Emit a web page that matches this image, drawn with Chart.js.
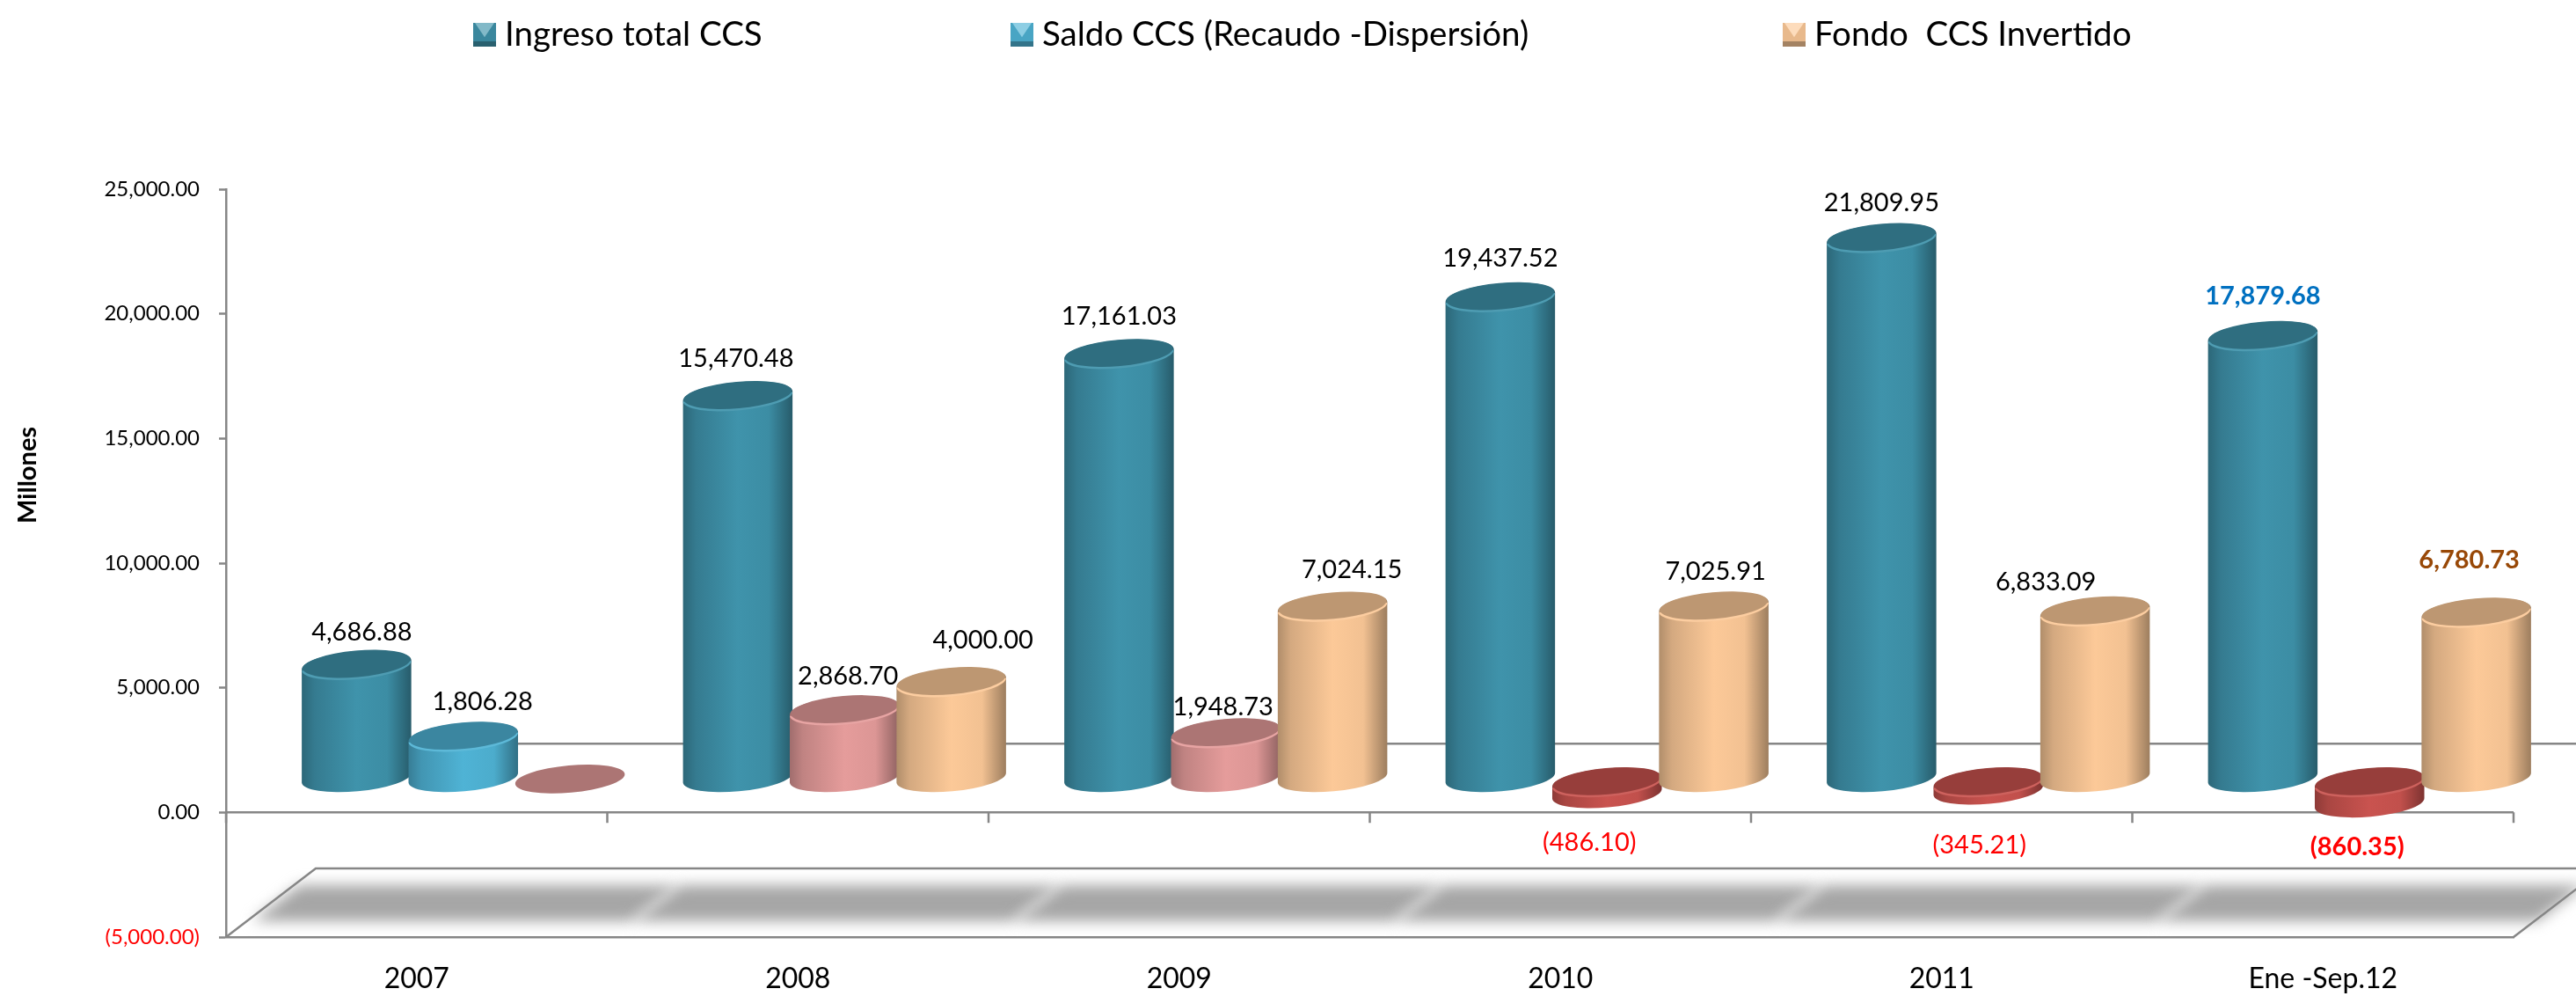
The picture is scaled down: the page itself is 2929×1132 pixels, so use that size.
<!DOCTYPE html>
<html>
<head>
<meta charset="utf-8">
<style>
  html, body { margin: 0; padding: 0; background: #fff; }
  canvas { display: block; }
</style>
<script src="https://cdn.jsdelivr.net/npm/chart.js@4"></script>
</head>
<body>
<canvas id="myChart" width="2929" height="1132"></canvas>
<script>
const categories = ["2007", "2008", "2009", "2010", "2011", "Ene -Sep.12"];
const ingresoTotal = [4686.88, 15470.48, 17161.03, 19437.52, 21809.95, 17879.68];
const saldoCCS = [1806.28, 2868.70, 1948.73, -486.10, -345.21, -860.35];
const fondoInvertido = [0, 4000.00, 7024.15, 7025.91, 6833.09, 6780.73];
const seriesNames = ["Ingreso total CCS", "Saldo CCS (Recaudo -Dispersión)", "Fondo  CCS Invertido"];

// colores por barra
const ingresoColors = ["#3f93ab", "#3f93ab", "#3f93ab", "#3f93ab", "#3f93ab", "#3f93ab"];
const saldoColors = ["#4fb3d5", "#e59c9b", "#e59c9b", "#c9534f", "#c9534f", "#c9534f"];
const fondoColors = ["#e59c9b", "#fcc998", "#fcc998", "#fcc998", "#fcc998", "#fcc998"];
const legendColors = ["#3f93ab", "#4fb3d5", "#fcc998"];

// ajuste a mano de las etiquetas [dx, dy] respecto a la cara superior
const ingresoNudge = [[6, -37], [-2, -42], [0, -42], [0, -44], [0, -40], [0, -45]];
const saldoNudge = [[22, -40], [4, -38], [-3, -29], [-20, 69], [-10, 72], [-14, 74]];
const fondoNudge = [[0, 0], [36, -47], [22, -42], [2, -40], [-56, -33], [-8, -60]];
const labelColors = [
  ["#000", "#000", "#000", "#000", "#000", "#0070c0"],
  ["#000", "#000", "#000", "#f00", "#f00", "#f00"],
  ["#000", "#000", "#000", "#000", "#000", "#984807"]
];
const boldLabels = [[5], [5], [5]];
const legendStarts = [538, 1149, 2027];

const AXIS = "#868686";
const FONT = "Lato";
const DEPTH_X = 53, DEPTH_Y = -35, RY = 15.5, TILT = -0.09;

function shade(hex, f) {
  let n = parseInt(hex.slice(1), 16);
  let r = (n >> 16) & 255, g = (n >> 8) & 255, b = n & 255;
  if (f <= 1) return "rgb(" + r * f + "," + g * f + "," + b * f + ")";
  return "rgb(" + (r + (255 - r) * (f - 1)) + "," + (g + (255 - g) * (f - 1)) + "," + (b + (255 - b) * (f - 1)) + ")";
}

function formatValue(v) {
  let s = Math.abs(v).toLocaleString("en-US", { minimumFractionDigits: 2, maximumFractionDigits: 2 });
  return v < 0 ? "(" + s + ")" : s;
}

function drawCylinder(ctx, bar, color, flat) {
  let rx = bar.width / 2;
  let x = bar.x + DEPTH_X;
  let top = Math.min(bar.y, bar.base) + DEPTH_Y;
  let bottom = Math.max(bar.y, bar.base) + DEPTH_Y;
  if (bar.y < bar.base) bottom -= 4; // la base apoya un poco mas arriba

  if (!flat) {
    let g = ctx.createLinearGradient(x - rx, 0, x + rx, 0);
    g.addColorStop(0, shade(color, 0.7));
    g.addColorStop(0.12, shade(color, 0.84));
    g.addColorStop(0.5, color);
    g.addColorStop(0.78, shade(color, 0.96));
    g.addColorStop(1, shade(color, 0.62));
    ctx.beginPath();
    ctx.ellipse(x, bottom, rx, RY, TILT, 0, Math.PI);
    ctx.ellipse(x, top, rx, RY, TILT, Math.PI, Math.PI * 2);
    ctx.closePath();
    ctx.fillStyle = g;
    ctx.fill();
    // borde algo mas claro en la parte baja de la tapa
    ctx.beginPath();
    ctx.ellipse(x, top + 1, rx, RY, TILT, 0, Math.PI);
    ctx.fillStyle = shade(color, 1.08);
    ctx.fill();
  }
  ctx.beginPath();
  ctx.ellipse(x, top - (flat ? 3 : 1), rx - (flat ? 0 : 1), RY - (flat ? 0 : 0.5), TILT, 0, Math.PI * 2);
  ctx.fillStyle = shade(color, 0.75);
  ctx.fill();
}

function drawMarker(ctx, x, y, color) {
  let w = 26, h = 27;
  ctx.fillStyle = shade(color, 0.92);
  ctx.fillRect(x, y, w, h);
  ctx.fillStyle = shade(color, 1.35);
  ctx.beginPath();
  ctx.moveTo(x + 2, y);
  ctx.lineTo(x + w - 2, y);
  ctx.lineTo(x + w / 2, y + h * 0.6);
  ctx.fill();
  ctx.fillStyle = shade(color, 0.65);
  ctx.fillRect(x, y + h - 6, w, 6);
}

const chart3d = {
  id: "chart3d",
  beforeDatasetsDraw(chart) {
    const ctx = chart.ctx;
    const area = chart.chartArea;
    const ys = chart.scales.y;
    const slot = area.width / categories.length;
    const y0 = ys.getPixelForValue(0);
    const yLow = ys.getPixelForValue(-5000);

    ctx.save();

    // sombra del piso
    ctx.filter = "blur(8px)";
    ctx.fillStyle = "#a6a6a6";
    categories.forEach(function (c, i) {
      let l = area.left + i * slot;
      ctx.beginPath();
      ctx.moveTo(l + 84, yLow - 59);
      ctx.lineTo(l + 84 + slot - 3, yLow - 59);
      ctx.lineTo(l + 30 + slot - 3, yLow - 18);
      ctx.lineTo(l + 30, yLow - 18);
      ctx.closePath();
      ctx.fill();
    });
    ctx.filter = "none";

    // piso y pared
    ctx.strokeStyle = AXIS;
    ctx.lineWidth = 2.5;
    ctx.beginPath();
    ctx.moveTo(area.left, yLow);
    ctx.lineTo(area.left + 102, yLow - 78);
    ctx.lineTo(chart.width, yLow - 78);
    ctx.moveTo(area.right, yLow);
    ctx.lineTo(area.right + 102, yLow - 78);
    ctx.moveTo(400, y0 - 78);
    ctx.lineTo(chart.width, y0 - 78);
    ctx.stroke();

    // linea del cero con sus marcas
    ctx.beginPath();
    ctx.moveTo(area.left, y0);
    ctx.lineTo(area.right, y0);
    for (let i = 0; i <= categories.length; i++) {
      ctx.moveTo(area.left + i * slot, y0);
      ctx.lineTo(area.left + i * slot, y0 + 12);
    }
    ctx.stroke();

    // cilindros
    chart.data.datasets.forEach(function (ds, d) {
      chart.getDatasetMeta(d).data.forEach(function (bar, i) {
        drawCylinder(ctx, bar, ds.backgroundColor[i], ds.data[i] === 0);
      });
    });

    // etiquetas de datos
    ctx.textAlign = "center";
    ctx.textBaseline = "middle";
    [ingresoNudge, saldoNudge, fondoNudge].forEach(function (nudge, d) {
      let ds = chart.data.datasets[d];
      chart.getDatasetMeta(d).data.forEach(function (bar, i) {
        if (ds.data[i] === 0) return;
        let top = Math.min(bar.y, bar.base) + DEPTH_Y;
        ctx.font = (boldLabels[d].includes(i) ? "bold " : "") + "29px " + FONT;
        ctx.fillStyle = labelColors[d][i];
        ctx.fillText(formatValue(ds.data[i]), bar.x + DEPTH_X + nudge[i][0], top + nudge[i][1]);
      });
    });

    // leyenda
    seriesNames.forEach(function (name, i) {
      drawMarker(ctx, legendStarts[i], 26, legendColors[i]);
      ctx.font = "38.5px " + FONT;
      ctx.textAlign = "left";
      ctx.fillStyle = "#000";
      ctx.fillText(name, legendStarts[i] + 36, 40);
    });

    // titulo del eje
    ctx.translate(32, 540);
    ctx.rotate(-Math.PI / 2);
    ctx.font = "bold 29px " + FONT;
    ctx.textAlign = "center";
    ctx.fillText("Millones", 0, 0);

    ctx.restore();
    return false;
  }
};

new Chart(document.getElementById("myChart"), {
  type: "bar",
  data: {
    labels: categories,
    datasets: [
      { label: seriesNames[0], data: ingresoTotal, backgroundColor: ingresoColors },
      { label: seriesNames[1], data: saldoCCS, backgroundColor: saldoColors },
      { label: seriesNames[2], data: fondoInvertido, backgroundColor: fondoColors }
    ]
  },
  options: {
    responsive: false,
    animation: false,
    categoryPercentage: 0.84,
    barPercentage: 1.03,
    layout: { padding: { top: 215, right: 71, bottom: 0, left: 0 } },
    plugins: { legend: { display: false }, title: { display: false }, tooltip: { enabled: false } },
    scales: {
      x: {
        afterFit: function (scale) { scale.height = 67; },
        grid: { drawOnChartArea: false, drawTicks: false, color: AXIS },
        border: { color: AXIS, width: 2.5 },
        ticks: { color: "#000", padding: 28, maxRotation: 0, font: { family: FONT, size: 32 } }
      },
      y: {
        min: -5000,
        max: 25000,
        afterFit: function (scale) { scale.width = 257; },
        afterBuildTicks: function (scale) {
          scale.ticks = [-5000, 0, 5000, 10000, 15000, 20000, 25000].map(function (v) { return { value: v }; });
        },
        grid: { drawOnChartArea: false, tickLength: 8, tickColor: AXIS, tickWidth: 2.5 },
        border: { color: AXIS, width: 2.5 },
        ticks: {
          padding: 22,
          font: { family: FONT, size: 24 },
          color: function (c) { return c.tick.value < 0 ? "#f00" : "#000"; },
          callback: function (v) { return formatValue(v); }
        }
      }
    }
  },
  plugins: [chart3d]
});
</script>
</body>
</html>
